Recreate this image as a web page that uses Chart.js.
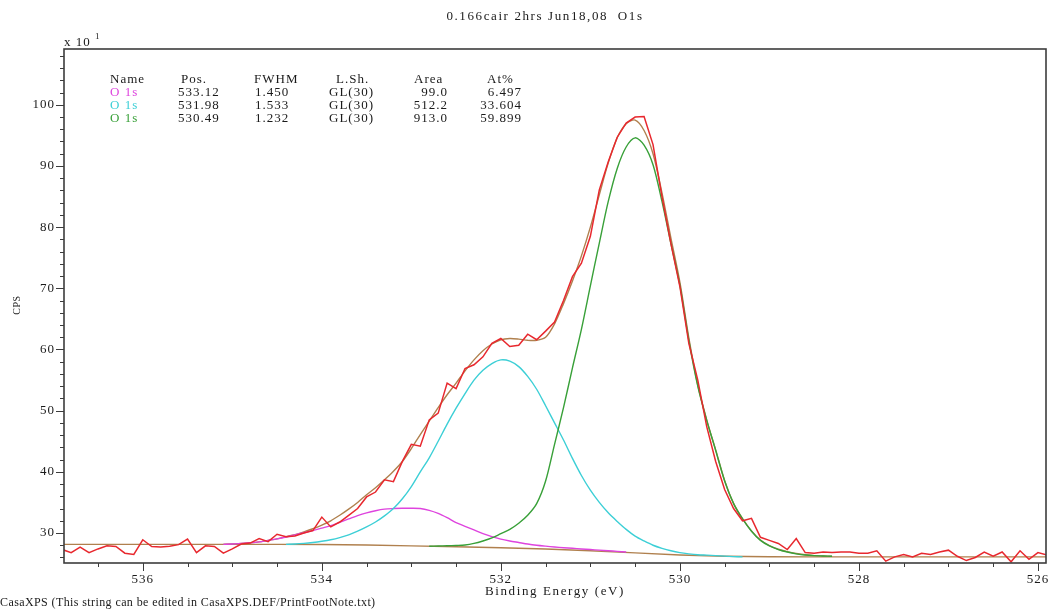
<!DOCTYPE html>
<html>
<head>
<meta charset="utf-8">
<title>O 1s</title>
<script src="https://cdn.jsdelivr.net/npm/chart.js@4.4.1/dist/chart.umd.min.js"></script>
<style>
  html, body { margin: 0; padding: 0; background: #ffffff; }
  canvas { display: block; }
</style>
</head>
<body>
<canvas id="xps" width="1048" height="610"></canvas>
<script>
// ---- Measured spectrum: binding energy (eV) and counts (CPS x 10) ----
const bindingEnergy = [
  536.9, 536.8, 536.7, 536.6, 536.5, 536.4, 536.3, 536.2, 536.1, 536.0,
  535.9, 535.8, 535.7, 535.6, 535.5, 535.4, 535.3, 535.2, 535.1, 535.0,
  534.9, 534.8, 534.7, 534.6, 534.5, 534.4, 534.3, 534.2, 534.1, 534.0,
  533.9, 533.8, 533.7, 533.6, 533.5, 533.4, 533.3, 533.2, 533.1, 533.0,
  532.9, 532.8, 532.7, 532.6, 532.5, 532.4, 532.3, 532.2, 532.1, 532.0,
  531.9, 531.8, 531.7, 531.6, 531.5, 531.4, 531.3, 531.2, 531.1, 531.0,
  530.9, 530.8, 530.7, 530.6, 530.5, 530.4, 530.3, 530.2, 530.1, 530.0,
  529.9, 529.8, 529.7, 529.6, 529.5, 529.4, 529.3, 529.2, 529.1, 529.0,
  528.9, 528.8, 528.7, 528.6, 528.5, 528.4, 528.3, 528.2, 528.1, 528.0,
  527.9, 527.8, 527.7, 527.6, 527.5, 527.4, 527.3, 527.2, 527.1, 527.0,
  526.9, 526.8, 526.7, 526.6, 526.5, 526.4, 526.3, 526.2, 526.1, 526.0,
  525.9
];
const countsRaw = [
  27.3, 26.8, 27.7, 26.8, 27.4, 27.9, 27.8, 26.7, 26.5, 28.9,
  27.8, 27.7, 27.85, 28.1, 29.0, 26.8, 27.9, 27.8, 26.7, 27.4,
  28.2, 28.35, 29.1, 28.6, 29.8, 29.4, 29.5, 30.0, 30.4, 32.6,
  31.0, 31.8, 32.9, 34.0, 35.9, 36.7, 38.7, 38.4, 41.7, 44.5,
  44.2, 48.5, 49.6, 54.5, 53.6, 56.9, 57.5, 58.8, 61.0, 61.8,
  60.5, 60.7, 62.5, 61.6, 63.0, 64.5, 68.0, 71.9, 74.1, 78.5,
  86.1, 90.7, 94.7, 97.0, 98.0, 98.1, 93.5, 85.0, 77.3, 70.3,
  61.0, 55.0, 47.4, 41.7, 37.1, 34.0, 32.0, 32.4, 29.3, 28.8,
  28.3, 27.3, 29.1, 26.8, 26.7, 26.9, 26.8, 26.9, 26.9, 26.7,
  26.7, 27.1, 25.4, 26.1, 26.5, 26.1, 26.7, 26.5, 26.9, 27.2,
  26.2, 25.5, 26.0, 26.9, 26.2, 26.9, 25.3, 27.1, 25.7, 26.8,
  26.4
];

// ---- Shirley background ----
const backgroundEnergy = [536.9, 534.5, 534.0, 533.5, 533.0, 532.5, 532.0, 531.5, 531.0, 530.5, 530.0, 529.5, 529.0, 528.5, 525.9];
const backgroundCounts = [28.15, 28.15, 28.12, 28.05, 27.9, 27.75, 27.6, 27.4, 27.1, 26.75, 26.4, 26.2, 26.12, 26.1, 26.1];

// ---- Component 1: O 1s at 533.12 eV (drawn on top of the background) ----
const peak1Energy = [
  535.1, 535.0, 534.9, 534.8, 534.7, 534.6, 534.5, 534.4, 534.3, 534.2,
  534.1, 534.0, 533.9, 533.8, 533.7, 533.6, 533.5, 533.4, 533.3, 533.2,
  533.1, 533.0, 532.9, 532.8, 532.7, 532.6, 532.5, 532.4, 532.3, 532.2,
  532.1, 532.0, 531.9, 531.8, 531.7, 531.6, 531.5, 531.4, 531.3, 531.2,
  531.1, 531.0, 530.9, 530.8, 530.7, 530.6
];
const peak1Counts = [
  28.15, 28.2, 28.3, 28.4, 28.55, 28.8, 29.05, 29.35, 29.7, 30.05,
  30.4, 30.8, 31.2, 31.75, 32.3, 32.85, 33.3, 33.65, 33.9, 34.0,
  34.05, 34.05, 34.0, 33.7, 33.2, 32.5, 31.7, 31.1, 30.5, 29.9,
  29.4, 29.0, 28.7, 28.45, 28.2, 28.0, 27.85, 27.72, 27.6, 27.5,
  27.4, 27.3, 27.2, 27.1, 27.0, 26.9
];

// ---- Component 2: O 1s at 531.98 eV ----
const peak2Energy = [
  534.4, 534.3, 534.2, 534.1, 534.0, 533.9, 533.8, 533.7, 533.6, 533.5,
  533.4, 533.3, 533.2, 533.1, 533.0, 532.9, 532.8, 532.7, 532.6, 532.5,
  532.4, 532.3, 532.2, 532.1, 532.0, 531.9, 531.8, 531.7, 531.6, 531.5,
  531.4, 531.3, 531.2, 531.1, 531.0, 530.9, 530.8, 530.7, 530.6, 530.5,
  530.4, 530.3, 530.2, 530.1, 530.0, 529.9, 529.8, 529.7, 529.6, 529.5,
  529.4, 529.3
];
const peak2Counts = [
  28.15, 28.2, 28.3, 28.45, 28.65, 28.9, 29.25, 29.7, 30.3, 31.0,
  31.8, 32.8, 34.0, 35.6, 37.6, 40.0, 42.3, 45.0, 47.8, 50.4,
  52.8, 55.0, 56.6, 57.7, 58.3, 58.1, 57.2, 55.6, 53.5, 50.8,
  48.0, 45.2, 42.2, 39.4, 37.0, 35.0, 33.3, 31.9, 30.6, 29.5,
  28.7, 28.0, 27.5, 27.1, 26.8, 26.6, 26.45, 26.38, 26.3, 26.22,
  26.15, 26.1
];

// ---- Component 3: O 1s at 530.49 eV ----
const peak3Energy = [
  532.8, 532.7, 532.6, 532.5, 532.4, 532.3, 532.2, 532.1, 532.0, 531.9,
  531.8, 531.7, 531.6, 531.5, 531.4, 531.3, 531.2, 531.1, 531.0, 530.9,
  530.8, 530.7, 530.6, 530.5, 530.4, 530.3, 530.2, 530.1, 530.0, 529.9,
  529.8, 529.7, 529.6, 529.5, 529.4, 529.3, 529.2, 529.1, 529.0, 528.9,
  528.8, 528.7, 528.6, 528.5, 528.4, 528.3
];
const peak3Counts = [
  27.85, 27.87, 27.92, 27.97, 28.05, 28.3, 28.7, 29.2, 29.9, 30.6,
  31.6, 32.9, 34.8, 38.5, 44.5, 50.5, 57.0, 63.3, 70.4, 77.4,
  84.2, 89.6, 93.1, 94.6, 93.4, 90.2, 84.2, 77.3, 70.5, 61.5,
  54.0, 48.4, 43.5, 38.5, 34.8, 32.3, 30.3, 28.8, 27.9, 27.3,
  26.9, 26.6, 26.4, 26.3, 26.25, 26.2
];

// ---- Fitted envelope ----
const envelopeEnergy = [
  535.1, 535.0, 534.9, 534.8, 534.7, 534.6, 534.5, 534.4, 534.3, 534.2,
  534.1, 534.0, 533.9, 533.8, 533.7, 533.6, 533.5, 533.4, 533.3, 533.2,
  533.1, 533.0, 532.9, 532.8, 532.7, 532.6, 532.5, 532.4, 532.3, 532.2,
  532.1, 532.0, 531.9, 531.8, 531.7, 531.6, 531.5, 531.4, 531.3, 531.2,
  531.1, 531.0, 530.9, 530.8, 530.7, 530.6, 530.5, 530.4, 530.3, 530.2,
  530.1, 530.0, 529.9, 529.8, 529.7, 529.6, 529.5, 529.4, 529.3, 529.2,
  529.1, 529.0, 528.9, 528.8, 528.7, 528.6, 528.5, 528.4, 528.3
];
const envelopeCounts = [
  28.15, 28.2, 28.3, 28.4, 28.55, 28.8, 29.05, 29.4, 29.75, 30.2,
  30.7, 31.3, 32.0, 32.9, 33.9, 35.0, 36.25, 37.4, 38.7, 40.1,
  41.7, 43.8, 46.1, 48.3, 50.5, 52.6, 54.5, 56.5, 58.3, 59.8,
  60.9, 61.6, 61.8, 61.7, 61.5, 61.5, 62.0, 64.2, 67.5, 71.2,
  75.3, 80.0, 85.3, 90.5, 94.6, 96.9, 97.5, 95.8, 92.0, 85.6,
  78.2, 71.0, 61.9, 54.2, 48.5, 43.6, 38.6, 34.85, 32.35, 30.35,
  28.85, 27.95, 27.35, 26.95, 26.65, 26.45, 26.3, 26.25, 26.2
];

// ---- Axis ticks and the quantification table ----
const energyTicks = [536, 534, 532, 530, 528, 526];
const cpsTicks = [30, 40, 50, 60, 70, 80, 90, 100];
const tableHeader = ['Name', 'Pos.', 'FWHM', 'L.Sh.', 'Area', 'At%'];
const componentNames = ['O 1s', 'O 1s', 'O 1s'];
const componentPos = ['533.12', '531.98', '530.49'];
const componentFwhm = ['1.450', '1.533', '1.232'];
const componentShape = ['GL(30)', 'GL(30)', 'GL(30)'];
const componentArea = ['99.0', '512.2', '913.0'];
const componentAtPct = ['6.497', '33.604', '59.899'];

const titleText = '0.166cair 2hrs Jun18,08  O1s';
const xTitle = 'Binding Energy (eV)';
const yTitle = 'CPS';
const footNote = 'CasaXPS (This string can be edited in CasaXPS.DEF/PrintFootNote.txt)';

const COLORS = {
  raw: '#e8282e',
  envelope: '#b0804e',
  background: '#b0804e',
  p1: '#de44de',
  p2: '#3ccfd6',
  p3: '#38a038',
  axis: '#3c3c3c',
  text: '#1a1a1a'
};
const componentColors = [COLORS.p1, COLORS.p2, COLORS.p3];

const SERIF = "'Liberation Serif', 'Times New Roman', serif";

const pairs = (xs, ys) => xs.map((e, i) => ({ x: e, y: ys[i] }));

// Frame, major/minor tick marks and all the annotation text
const casaDecor = {
  id: 'casaDecor',
  beforeDraw(chart) {
    // the printout font is a wide bitmap serif; open the letters up a little
    chart.ctx.letterSpacing = '1px';
  },
  afterDatasetsDraw(chart) {
    const { ctx, chartArea: a, scales: { x, y } } = chart;
    ctx.save();
    ctx.strokeStyle = COLORS.axis;
    ctx.lineWidth = 1.6;
    ctx.strokeRect(a.left, a.top, a.right - a.left, a.bottom - a.top);

    ctx.lineWidth = 1;
    ctx.beginPath();
    // y tick marks: major every 10, minor every 2
    for (let v = Math.ceil(y.min / 2) * 2; v <= y.max; v += 2) {
      const p = Math.round(y.getPixelForValue(v)) + 0.5;
      const len = v % 10 === 0 ? 8 : 4;
      ctx.moveTo(a.left - len, p);
      ctx.lineTo(a.left, p);
    }
    // x tick marks: major every 2 eV, minor every 0.5 eV
    for (let k = Math.ceil(x.min * 2); k <= Math.floor(x.max * 2); k++) {
      const v = k / 2;
      const p = Math.round(x.getPixelForValue(v)) + 0.5;
      const len = k % 4 === 0 ? 8 : 4;
      ctx.moveTo(p, a.bottom);
      ctx.lineTo(p, a.bottom + len);
    }
    ctx.stroke();
    ctx.restore();
  },
  afterDraw(chart) {
    const { ctx, chartArea: a } = chart;
    ctx.save();
    ctx.fillStyle = COLORS.text;
    ctx.textBaseline = 'middle';

    // title
    ctx.letterSpacing = '1.6px';
    ctx.font = '13px ' + SERIF;
    ctx.textAlign = 'center';
    ctx.fillText(titleText, 545, 17);

    // axis multiplier
    ctx.letterSpacing = '1px';
    ctx.textAlign = 'left';
    ctx.fillText('x 10', a.left, 43);
    ctx.font = '9px ' + SERIF;
    ctx.fillText('1', a.left + 31, 37);

    // quantification table
    ctx.font = '13px ' + SERIF;
    const headerX = [110, 181, 254, 336, 414, 487];
    tableHeader.forEach((h, i) => { ctx.textAlign = 'left'; ctx.fillText(h, headerX[i], 80); });
    for (let r = 0; r < componentNames.length; r++) {
      const yy = 93 + r * 13;
      ctx.textAlign = 'left';
      ctx.fillStyle = componentColors[r];
      ctx.fillText(componentNames[r], 110, yy);
      ctx.fillStyle = COLORS.text;
      ctx.fillText(componentPos[r], 178, yy);
      ctx.fillText(componentFwhm[r], 255, yy);
      ctx.fillText(componentShape[r], 329, yy);
      ctx.textAlign = 'right';
      ctx.fillText(componentArea[r], 448, yy);
      ctx.fillText(componentAtPct[r], 522, yy);
    }

    // axis titles and foot note
    ctx.letterSpacing = '1.6px';
    ctx.textAlign = 'center';
    ctx.fillText(xTitle, (a.left + a.right) / 2, 592);
    ctx.save();
    ctx.letterSpacing = '0.5px';
    ctx.translate(17, 305);
    ctx.rotate(-Math.PI / 2);
    ctx.font = '10px ' + SERIF;
    ctx.fillText(yTitle, 0, 0);
    ctx.restore();
    ctx.letterSpacing = '0.4px';
    ctx.textAlign = 'left';
    ctx.font = '12px ' + SERIF;
    ctx.fillText(footNote, 0, 603);
    ctx.restore();
  }
};

const lineStyle = (color, width) => ({
  borderColor: color,
  borderWidth: width,
  pointRadius: 0,
  fill: false,
  tension: 0
});

new Chart(document.getElementById('xps'), {
  type: 'line',
  data: {
    datasets: [
      Object.assign({ label: 'Data', data: pairs(bindingEnergy, countsRaw), order: 0 }, lineStyle(COLORS.raw, 1.5)),
      Object.assign({ label: 'O 1s 530.49', data: pairs(peak3Energy, peak3Counts), order: 1 }, lineStyle(COLORS.p3, 1.4), { tension: 0.3 }),
      Object.assign({ label: 'O 1s 531.98', data: pairs(peak2Energy, peak2Counts), order: 2 }, lineStyle(COLORS.p2, 1.4), { tension: 0.3 }),
      Object.assign({ label: 'O 1s 533.12', data: pairs(peak1Energy, peak1Counts), order: 3 }, lineStyle(COLORS.p1, 1.4), { tension: 0.3 }),
      Object.assign({ label: 'Envelope', data: pairs(envelopeEnergy, envelopeCounts), order: 4 }, lineStyle(COLORS.envelope, 1.4), { tension: 0.3 }),
      Object.assign({ label: 'Background', data: pairs(backgroundEnergy, backgroundCounts), order: 5 }, lineStyle(COLORS.background, 1.4))
    ]
  },
  options: {
    responsive: false,
    animation: false,
    devicePixelRatio: 1,
    layout: { padding: { top: 49, right: 2, left: 0, bottom: 0 } },
    plugins: { legend: { display: false }, tooltip: { enabled: false } },
    scales: {
      x: {
        type: 'linear',
        reverse: true,
        min: 525.91,
        max: 536.88,
        afterFit(scale) {
          scale.height = 47;
          scale.paddingLeft = 0;
          scale.paddingRight = 0;
        },
        afterBuildTicks(scale) { scale.ticks = energyTicks.map(v => ({ value: v })); },
        grid: { display: false, drawTicks: false },
        border: { display: false },
        ticks: {
          padding: 9,
          color: COLORS.text,
          font: { family: SERIF, size: 13 },
          maxRotation: 0,
          autoSkip: false
        }
      },
      y: {
        type: 'linear',
        min: 25.1,
        max: 109.12,
        afterFit(scale) {
          scale.width = 64;
          scale.paddingTop = 0;
          scale.paddingBottom = 0;
        },
        afterBuildTicks(scale) { scale.ticks = cpsTicks.map(v => ({ value: v })); },
        grid: { display: false, drawTicks: false },
        border: { display: false },
        ticks: {
          padding: 9,
          color: COLORS.text,
          font: { family: SERIF, size: 13 },
          autoSkip: false
        }
      }
    }
  },
  plugins: [casaDecor]
});
</script>
</body>
</html>
